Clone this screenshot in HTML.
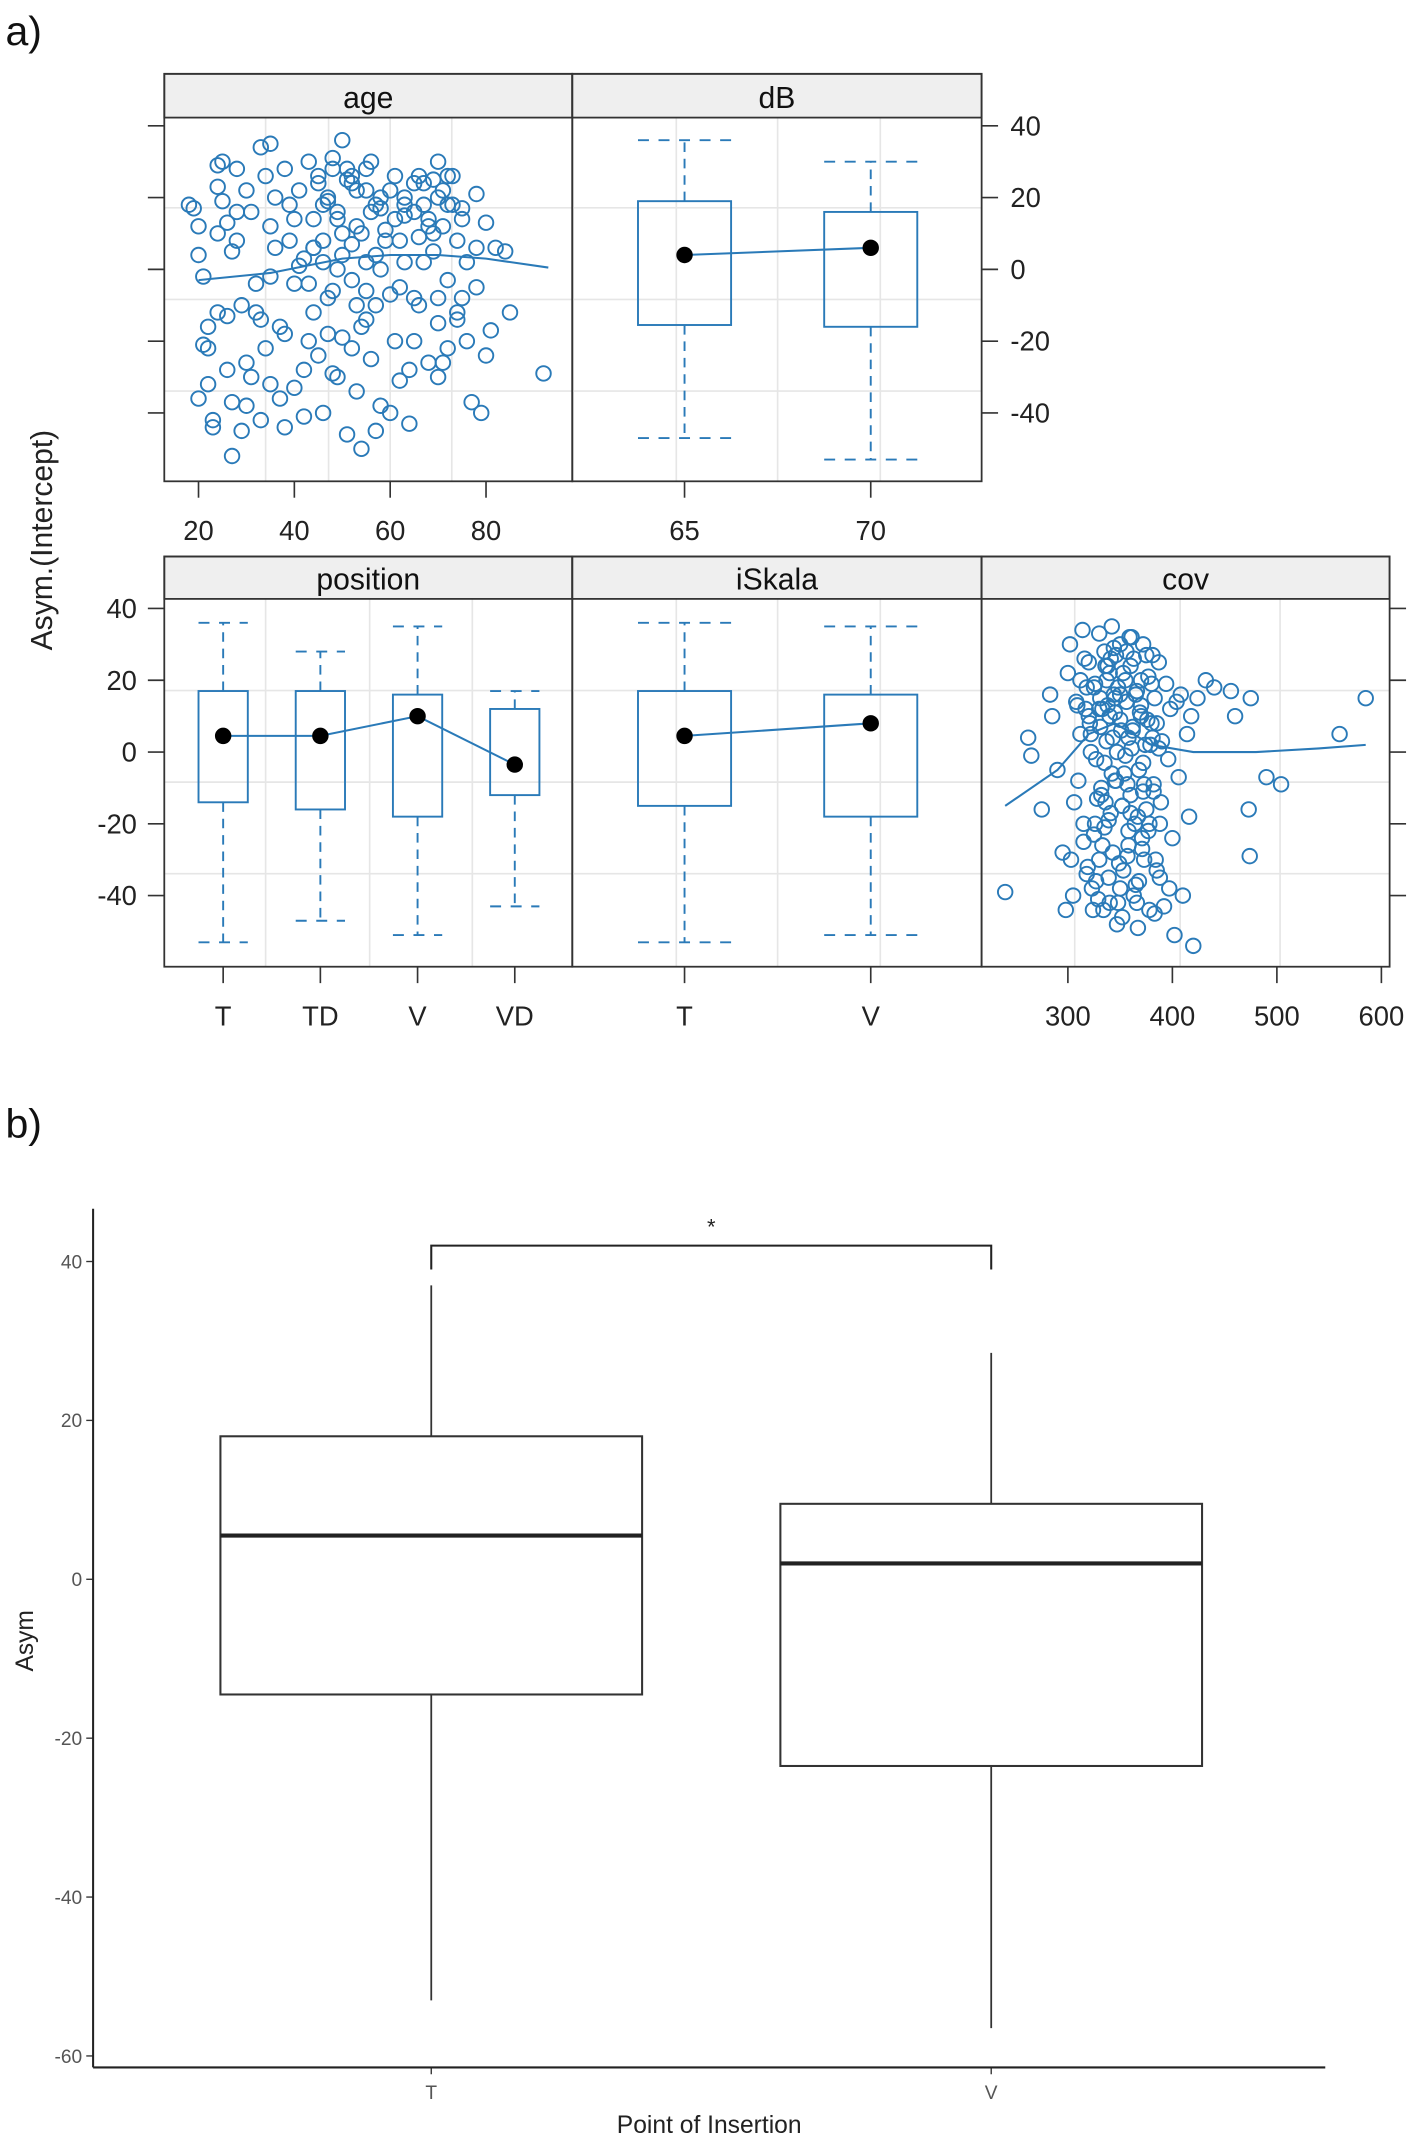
<!DOCTYPE html>
<html><head><meta charset="utf-8"><style>
html,body{margin:0;padding:0;background:#fff;}
svg{display:block;}
text{font-family:"Liberation Sans",sans-serif;}
</style></head><body>
<svg id="fig" width="1417" height="2144" viewBox="0 0 1035 1568" preserveAspectRatio="none" xmlns="http://www.w3.org/2000/svg">
<text x="4" y="33" font-size="30" fill="#111">a)</text>
<text x="4" y="832" font-size="30" fill="#111">b)</text>
<g id="A"></g>
<g id="B"></g>
</svg>
<script>
// ---------- data ----------
const ageX=[18,19,20,20,21,21,22,22,23,23,24,24,25,25,26,26,27,27,28,28,29,30,30,31,32,33,33,34,35,35,36,37,38,38,39,40,40,41,42,42,43,44,44,45,45,46,46,47,47,48,48,49,49,50,50,51,51,52,52,53,53,54,54,55,55,56,56,57,58,58,59,60,61,61,62,63,63,64,65,66,66,67,68,69,69,70,70,71,72,72,73,74,74,75,76,76,77,78,78,79,80,81,82,84,85,92,37,43,57,65,31,27,46,53,60,35,68,49,24,72,44,52,58,48,41,62,70,33,29,55,
45,47,49,51,53,55,57,59,61,63,65,67,69,71,73,75,46,48,50,52,54,56,58,62,64,66,68,70,72,74,44,42,40,38,36,34,32,30,28,26,24,22,20,50,55,60,65,70,75,78,80,52,47,57,63,67,71,43,39,35];
const ageY=[18,17,12,4,-2,-21,-22,-32,-42,-44,29,23,30,19,13,-13,-37,-52,28,8,-10,-26,22,16,-4,-42,34,-22,35,12,6,-16,28,-44,18,-4,-33,22,3,-41,30,-12,14,-24,26,8,-40,19,-8,31,-29,0,14,36,-19,25,-46,7,-3,22,-34,10,-50,-14,28,16,-25,4,-38,20,11,-7,26,-20,-31,15,2,-43,24,-10,9,18,-26,25,5,-15,20,12,-3,-22,26,8,-12,17,-20,2,-37,21,-5,-40,13,-17,6,5,-12,-29,-36,-20,-45,-8,-30,5,18,-10,22,-2,14,-30,-12,26,6,24,17,28,1,-5,30,-14,-45,2,
24,20,16,28,12,22,18,8,14,20,16,24,10,22,18,14,2,-6,10,26,-16,30,0,8,-28,26,12,-8,18,-14,6,-28,14,-18,20,26,-12,-38,16,-28,10,-16,-36,4,-6,-40,-20,-30,-8,6,-24,-22,-18,-10,18,2,-26,-4,8,-32];
const ageFitX=[20,35,50,60,70,80,93];
const ageFitY=[-3,-1,3,4,4,3,0.5];
const covX=[240,262,265,275,283,285,290,295,298,300,302,305,308,310,312,315,316,318,320,322,324,326,328,330,331,333,335,336,338,340,341,343,344,346,348,349,350,352,353,355,356,358,359,360,362,363,365,366,368,369,371,372,374,375,377,378,380,382,383,385,387,388,390,392,394,396,398,400,402,404,406,408,410,414,416,418,420,424,432,440,456,460,475,490,504,473,474,560,585,306,314,327,339,347,357,367,373,381,389,337,345,354,361,364,376,384,397,303,318,332,342,350,358,370,333,346,325,321,344,366,379,338,352,356,372,309,335,
320,325,330,335,340,345,350,355,360,365,370,375,380,385,322,327,332,337,342,347,352,357,362,367,372,377,382,387,315,319,323,329,334,339,343,348,353,358,363,368,373,378,383,388,312,317,326,331,336,341,351,361,371,381,330,340,350,360,370,345];
const covY=[-39,4,-1,-16,16,10,-5,-28,-44,22,30,-40,14,-8,5,-20,26,-34,10,0,-44,19,-13,33,7,-26,-3,24,13,-42,-17,4,29,-8,18,-31,9,-46,22,-1,14,-22,32,-12,6,26,-37,17,-5,11,-27,30,2,-16,21,-44,8,-9,15,-33,25,-20,3,-43,19,-2,12,-24,-51,14,-7,16,-40,5,-18,10,-54,15,20,18,17,10,15,-7,-9,-16,-29,5,15,-14,34,-36,-19,-48,-29,-49,-9,27,-14,20,11,-6,1,-20,9,-30,-38,-30,18,-10,35,-38,4,20,12,27,-23,8,16,-42,2,24,-15,28,-11,13,-21,
25,18,12,28,22,15,30,20,24,16,10,27,19,8,5,-2,-12,3,-6,0,-15,-9,7,-18,-3,-22,-11,1,-25,-32,-38,-41,-44,-35,-28,-42,-33,-26,-40,-36,-30,-20,-45,-35,20,12,-20,15,-14,26,6,32,-24,4,-30,10,16,-17,13,-8];
const covFitX=[240,290,320,345,380,420,480,540,585];
const covFitY=[-15,-5,5,8,2,0,0,1,2];
// boxplot stats
const dBCats=["65","70"], dBLo=[-15.5,-16], dBMid=[4,6], dBHi=[19,16], dBMin=[-47,-53], dBMax=[36,30];
const posCats=["T","TD","V","VD"], posLo=[-14,-16,-18,-12], posMid=[4.5,4.5,10,-3.5], posHi=[17,17,16,12], posMin=[-53,-47,-51,-43], posMax=[36,28,35,17];
const iskCats=["T","V"], iskLo=[-15,-18], iskMid=[4.5,8], iskHi=[17,16], iskMin=[-53,-51], iskMax=[36,35];
const yTicks=[-40,-20,0,20,40];
const ageTicks=[20,40,60,80], covTicks=[300,400,500,600];
// panel b
const bCats=["T","V"], bQ1=[-14.5,-23.5], bMed=[5.5,2], bQ3=[18,9.5], bMin=[-53,-56.5], bMax=[37,28.5];
const bTicks=[-60,-40,-20,0,20,40];

const NS="http://www.w3.org/2000/svg";
const BLUE="#2a7ab8";
function mk(parent,tag,attrs,txt){const e=document.createElementNS(NS,tag);for(const k in attrs)e.setAttribute(k,attrs[k]);if(txt!==undefined)e.textContent=txt;parent.appendChild(e);return e;}
const A=document.getElementById('A');

function yTop(v){return 197-v*2.625;}
function yBot(v){return 550-v*2.625;}
const panels=[
 {name:'age',x0:120,x1:418,row:0},{name:'dB',x0:418,x1:717,row:0},
 {name:'position',x0:120,x1:418,row:1},{name:'iSkala',x0:418,x1:717,row:1},{name:'cov',x0:717,x1:1015,row:1}];
const rowGeom=[{st:54,pt:86,pb:352,ys:yTop},{st:407,pt:438,pb:707,ys:yBot}];
const xAge=v=>145+(v-20)*3.5;
const xDB=i=>500+i*136;
const xPos=i=>163+i*71;
const xIsk=i=>500+i*136;
const xCov=v=>780+(v-300)*0.7633;

panels.forEach(p=>{
 const g=rowGeom[p.row];
 const grp=mk(A,'g',{});
 
 
 [152,219,286].forEach(yy=>{const l=mk(grp,'line',{x1:p.x0,x2:p.x1,y1:yy+(p.row?353:0),y2:yy+(p.row?353:0),stroke:'#e6e6e6','stroke-width':1.2});});
 const vg={age:[194,240,285,330],dB:[494,568,643],position:[194,270,345],iSkala:[494,568,643],cov:[785,862,935]}[p.name];
 vg.forEach(xx=>{const l=mk(grp,'line',{x1:xx,x2:xx,y1:g.pt,y2:g.pb,stroke:'#e6e6e6','stroke-width':1.2});});
 const strip=mk(grp,'rect',{x:p.x0,y:g.st,width:p.x1-p.x0,height:g.pt-g.st,fill:'#efefef',stroke:'#333','stroke-width':1.3});
 
 
 const st=mk(grp,'text',{x:(p.x0+p.x1)/2,y:g.pt-7,'font-size':22,'text-anchor':'middle',fill:'#111'},p.name);
 
 
 const fr=mk(grp,'rect',{x:p.x0,y:g.st,width:p.x1-p.x0,height:g.pb-g.st,fill:'none',stroke:'#333','stroke-width':1.3});
 
 
 p.g=grp;
});

yTicks.forEach(v=>{
 let y=yTop(v);
 mk(A,'line',{x1:108,x2:120,y1:y,y2:y,stroke:'#333','stroke-width':1.2});
 mk(A,'line',{x1:717,x2:729,y1:y,y2:y,stroke:'#333','stroke-width':1.2});
 let t=mk(A,'text',{x:738,y:y+7,'font-size':20,fill:'#222'},String(v));
 
 
 y=yBot(v);
 mk(A,'line',{x1:108,x2:120,y1:y,y2:y,stroke:'#333','stroke-width':1.2});
 mk(A,'line',{x1:1015,x2:1027,y1:y,y2:y,stroke:'#333','stroke-width':1.2});
 t=mk(A,'text',{x:100,y:y+7,'font-size':20,fill:'#222','text-anchor':'end'},String(v));
 
 
});
const yl=mk(A,'text',{x:0,y:0,'font-size':22,fill:'#222','text-anchor':'middle',transform:'translate(38,395) rotate(-90)'},'Asym.(Intercept)');



function xtick(x,yb,label){
 mk(A,'line',{x1:x,x2:x,y1:yb,y2:yb+12,stroke:'#333','stroke-width':1.2});
 const t=mk(A,'text',{x:x,y:yb+43,'font-size':20,fill:'#222','text-anchor':'middle'},label);
 
 
}
ageTicks.forEach(v=>xtick(xAge(v),352,String(v)));
dBCats.forEach((c,i)=>xtick(xDB(i),352,c));
posCats.forEach((c,i)=>xtick(xPos(i),707,c));
iskCats.forEach((c,i)=>xtick(xIsk(i),707,c));
covTicks.forEach(v=>xtick(xCov(v),707,String(v)));

function scatter(grp,xs,ys,xf,yf,fx,fy){
 xs.forEach((x,i)=>{const c=mk(grp,'circle',{cx:xf(x),cy:yf(ys[i]),r:5.3,fill:'none',stroke:BLUE,'stroke-width':1.4});
  
  });
 const pl=mk(grp,'polyline',{points:fx.map((x,i)=>xf(x)+','+yf(fy[i])).join(' '),fill:'none',stroke:BLUE,'stroke-width':1.5});
 
 
}
scatter(panels[0].g,ageX,ageY,xAge,yTop,ageFitX,ageFitY);
scatter(panels[4].g,covX,covY,xCov,yBot,covFitX,covFitY);

function boxes(grp,cats,lo,mid,hi,mn,mx,xf,yf,hw){
 const pts=[];
 cats.forEach((c,i)=>{
  const x=xf(i);
  const b=mk(grp,'rect',{x:x-hw,y:yf(hi[i]),width:2*hw,height:yf(lo[i])-yf(hi[i]),fill:'none',stroke:BLUE,'stroke-width':1.4});
  
  
  const w1=mk(grp,'line',{x1:x,x2:x,y1:yf(hi[i]),y2:yf(mx[i]),stroke:BLUE,'stroke-width':1.4,'stroke-dasharray':'7,5'});
  
  
  const w2=mk(grp,'line',{x1:x,x2:x,y1:yf(lo[i]),y2:yf(mn[i]),stroke:BLUE,'stroke-width':1.4,'stroke-dasharray':'7,5'});
  
  
  [mx[i],mn[i]].forEach(v=>{const cp=mk(grp,'line',{x1:x-hw,x2:x+hw,y1:yf(v),y2:yf(v),stroke:BLUE,'stroke-width':1.4,'stroke-dasharray':'8,7'});
   
   });
  pts.push([x,yf(mid[i])]);
 });
 const pl=mk(grp,'polyline',{points:pts.map(p=>p.join(',')).join(' '),fill:'none',stroke:BLUE,'stroke-width':1.5});
 
 
 pts.forEach(p=>{const d=mk(grp,'circle',{cx:p[0],cy:p[1],r:6,fill:'#000'});
  
  });
}
boxes(panels[1].g,dBCats,dBLo,dBMid,dBHi,dBMin,dBMax,xDB,yTop,34);
boxes(panels[2].g,posCats,posLo,posMid,posHi,posMin,posMax,xPos,yBot,18);
boxes(panels[3].g,iskCats,iskLo,iskMid,iskHi,iskMin,iskMax,xIsk,yBot,34);

// ---------- panel b ----------
const B=document.getElementById('B');
const yb=v=>1155-v*5.81;
const xb=i=>315+i*409;
bTicks.forEach(v=>{
 mk(B,'line',{x1:63,x2:68,y1:yb(v),y2:yb(v),stroke:'#333','stroke-width':1});
 const t=mk(B,'text',{x:60,y:yb(v)+5,'font-size':14,fill:'#555','text-anchor':'end'},String(v));
 
 
});
bCats.forEach((c,i)=>{
 const x=xb(i);
 mk(B,'line',{x1:x,x2:x,y1:1512,y2:1517,stroke:'#333','stroke-width':1});
 const t=mk(B,'text',{x:x,y:1535,'font-size':14,fill:'#555','text-anchor':'middle'},c);
 
 
 const w=mk(B,'line',{x1:x,x2:x,y1:yb(bMax[i]),y2:yb(bMin[i]),stroke:'#333','stroke-width':1.3});
 
 
 const r=mk(B,'rect',{x:x-154,y:yb(bQ3[i]),width:308,height:yb(bQ1[i])-yb(bQ3[i]),fill:'#fff',stroke:'#333','stroke-width':1.5});
 
 
 const m=mk(B,'line',{x1:x-154,x2:x+154,y1:yb(bMed[i]),y2:yb(bMed[i]),stroke:'#222','stroke-width':3});
 
 
});
mk(B,'line',{x1:68,x2:68,y1:884,y2:1512,stroke:'#222','stroke-width':1.5});
mk(B,'line',{x1:68,x2:968,y1:1512,y2:1512,stroke:'#222','stroke-width':1.5});
const br=mk(B,'polyline',{points:`${xb(0)},${yb(39)} ${xb(0)},${yb(42)} ${xb(1)},${yb(42)} ${xb(1)},${yb(39)}`,fill:'none',stroke:'#222','stroke-width':1.5});


const star=mk(B,'text',{x:(xb(0)+xb(1))/2,y:yb(42)-8,'font-size':16,fill:'#222','text-anchor':'middle'},'*');


const xt=mk(B,'text',{x:518,y:1560,'font-size':18,fill:'#222','text-anchor':'middle'},'Point of Insertion');


const yt=mk(B,'text',{x:0,y:0,'font-size':18,fill:'#222','text-anchor':'middle',transform:'translate(24,1200) rotate(-90)'},'Asym');


</script>
</body></html>
